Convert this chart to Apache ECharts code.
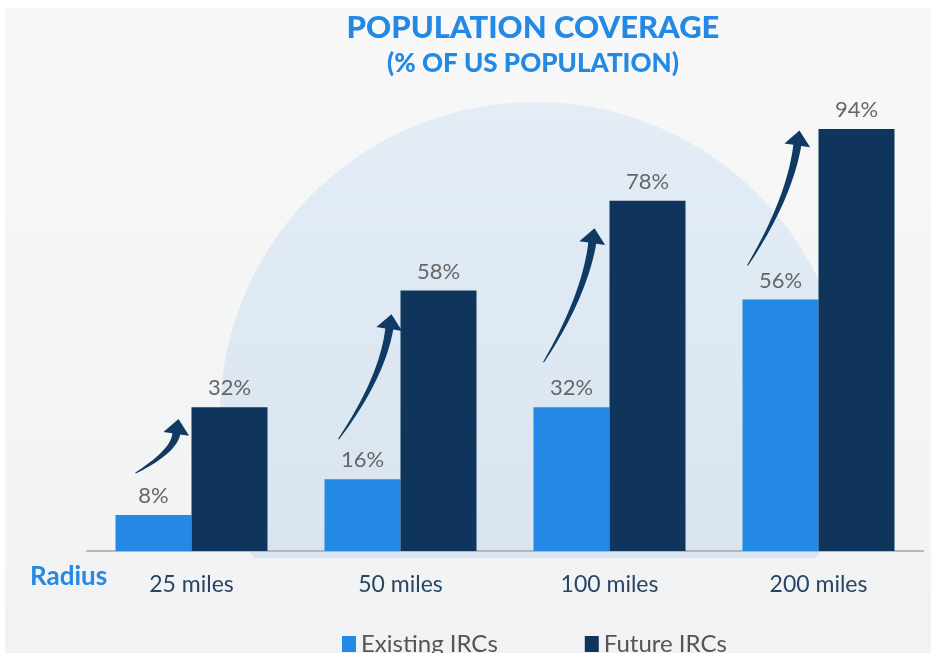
<!DOCTYPE html>
<html><head><meta charset="utf-8">
<script src="https://cdn.jsdelivr.net/npm/echarts@6/dist/echarts.min.js"></script>
<style>html,body{margin:0;padding:0;background:#fff}#c{width:931px;height:653px}</style>
</head><body><div id="c"></div>
<script>
const categories = ['25 miles', '50 miles', '100 miles', '200 miles'];
const existingIRCs = [8, 16, 32, 56];
const futureIRCs = [32, 58, 78, 94];
const titleLines = ['POPULATION COVERAGE', '(% OF US POPULATION)'];
const axisLabelText = 'Radius';
const seriesNames = ['Existing IRCs', 'Future IRCs'];

// decoration geometry for the curved arrows (offsets relative to bar tops)
const arrowGeom = [
  { tdx: -18, tdy: 42, dx: 43, dy: 54 },
  { tdx: -24, tdy: 40, dx: 53, dy: 125 },
  { tdx: -28, tdy: 45, dx: 51, dy: 134 },
  { tdx: -33, tdy: 34, dx: 52, dy: 135 }
];

const BLUE = '#2389e4', NAVY = '#0f355c', BAR_W = 76;
const chart = echarts.init(document.getElementById('c'), null, { renderer: 'canvas' });

// background circle (flat bottom)
const circPts = [];
const ccx = 535, ccy = 417, cr = 315, cbot = 558;
for (let a = 0; a < 360; a += 1) {
  const t = a * Math.PI / 180;
  circPts.push([ccx + cr * Math.cos(t), Math.min(cbot, ccy + cr * Math.sin(t))]);
}

const baseGraphic = [
  { id: 'bg', type: 'rect', z: -20, silent: true, shape: { x: 5, y: 8, width: 926, height: 645 },
    style: { fill: new echarts.graphic.LinearGradient(0, 0, 0, 1, [{ offset: 0, color: '#f8f8f8' }, { offset: 1, color: '#f0f2f3' }]) } },
  { id: 'circle', type: 'polygon', z: -10, silent: true, shape: { points: circPts },
    style: { fill: new echarts.graphic.LinearGradient(0, 0, 0, 1, [{ offset: 0, color: '#e4edf6' }, { offset: 1, color: '#d8e4f0' }]) } },
  { id: 't1', type: 'text', z: 10, x: 533, y: 28, style: { text: titleLines[0], fill: BLUE, font: '900 31px Lato', align: 'center', verticalAlign: 'middle' } },
  { id: 't2', type: 'text', z: 10, x: 533, y: 64, style: { text: titleLines[1], fill: BLUE, font: '900 26px Lato', align: 'center', verticalAlign: 'middle' } },
  { id: 'rad', type: 'text', z: 10, x: 30, y: 577, style: { text: axisLabelText, fill: BLUE, font: 'bold 26px Lato', align: 'left', verticalAlign: 'middle' } }
];

chart.setOption({
  animation: false,
  backgroundColor: 'transparent',
  grid: { left: 87, right: 8, top: 102, bottom: 102, containLabel: false },
  legend: {
    data: seriesNames, left: 342, top: 632, padding: 0, icon: 'rect',
    itemWidth: 14, itemHeight: 16, itemGap: 87,
    textStyle: { fontFamily: 'Lato', fontSize: 24, color: '#555', fontWeight: 'normal' }
  },
  xAxis: {
    type: 'category', data: categories,
    axisLine: { lineStyle: { color: '#b5b7b9', width: 2 } },
    axisTick: { show: false },
    axisLabel: { fontFamily: 'Lato', fontSize: 23, color: '#2a4562', fontWeight: 'normal', margin: 22 }
  },
  yAxis: { type: 'value', min: 0, max: 100, show: false, splitLine: { show: false } },
  series: [
    { name: seriesNames[0], type: 'bar', data: existingIRCs, barWidth: BAR_W, barGap: '0%',
      itemStyle: { color: BLUE },
      label: { show: true, position: 'top', distance: 8, formatter: '{c}%', fontFamily: 'Lato', fontWeight: 'normal', fontSize: 22, color: '#666' } },
    { name: seriesNames[1], type: 'bar', data: futureIRCs, barWidth: BAR_W,
      itemStyle: { color: NAVY },
      label: { show: true, position: 'top', distance: 8, formatter: '{c}%', fontFamily: 'Lato', fontWeight: 'normal', fontSize: 22, color: '#666' } }
  ],
  graphic: baseGraphic
});

// curved tapered arrows anchored to bar tops
function arrowShape(T, P) {
  const headLen = 15, headHalf = 13, shaftW = 8;
  const dir = [0.15, -1];
  const n = Math.hypot(dir[0], dir[1]); dir[0] /= n; dir[1] /= n;
  const H = [P[0] - dir[0] * headLen, P[1] - dir[1] * headLen];
  const k = 0.45 * (T[1] - H[1]);
  const C = [H[0] - dir[0] * k, H[1] - dir[1] * k];
  const left = [], right = [];
  const N = 30;
  for (let i = 0; i <= N; i++) {
    const t = i / N;
    const x = (1 - t) * (1 - t) * T[0] + 2 * (1 - t) * t * C[0] + t * t * H[0];
    const y = (1 - t) * (1 - t) * T[1] + 2 * (1 - t) * t * C[1] + t * t * H[1];
    const tx = 2 * (1 - t) * (C[0] - T[0]) + 2 * t * (H[0] - C[0]);
    const ty = 2 * (1 - t) * (C[1] - T[1]) + 2 * t * (H[1] - C[1]);
    const l = Math.hypot(tx, ty) || 1;
    const nx = -ty / l, ny = tx / l;
    const w = (0.5 + (shaftW / 2 - 0.5) * Math.pow(t, 0.8));
    left.push([x + nx * w, y + ny * w]);
    right.push([x - nx * w, y - ny * w]);
  }
  const px = -dir[1], py = dir[0];
  const pts = [];
  left.forEach(p => pts.push(p));
  pts.push([H[0] + px * headHalf, H[1] + py * headHalf]);
  pts.push(P);
  pts.push([H[0] - px * headHalf, H[1] - py * headHalf]);
  for (let i = right.length - 1; i >= 0; i--) pts.push(right[i]);
  return pts;
}

const arrows = existingIRCs.map((v, i) => {
  const cx = chart.convertToPixel({ xAxisIndex: 0 }, i);
  const ex = cx - BAR_W / 2;
  const ey = chart.convertToPixel({ yAxisIndex: 0 }, v);
  const g = arrowGeom[i];
  const T = [ex + g.tdx, ey - g.tdy];
  const P = [T[0] + g.dx, T[1] - g.dy];
  return { id: 'arrow' + i, type: 'polygon', z: 50, silent: true, shape: { points: arrowShape(T, P) }, style: { fill: '#0e3a63' } };
});

chart.setOption({ graphic: baseGraphic.concat(arrows) });
</script></body></html>
